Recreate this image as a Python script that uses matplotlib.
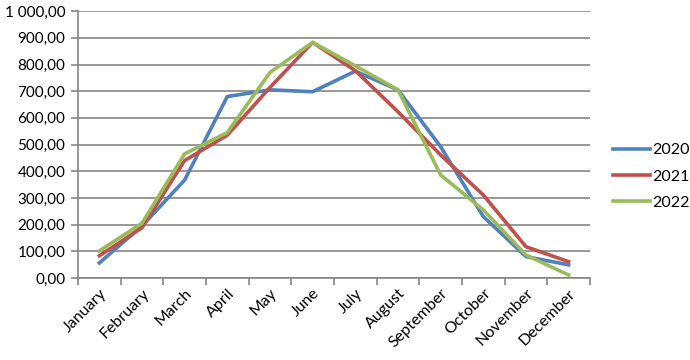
import matplotlib.pyplot as plt
import numpy as np

# monthly values
months = ["January", "February", "March", "April", "May", "June",
          "July", "August", "September", "October", "November", "December"]
y2020 = [56, 195, 367, 680, 705, 698, 775, 705, 492, 230, 80, 49]
y2021 = [83, 188, 440, 535, 714, 883, 777, 623, 461, 311, 117, 61]
y2022 = [101, 205, 465, 545, 770, 883, 795, 705, 386, 255, 86, 11]

plt.rcParams['font.family'] = ['Lato', 'DejaVu Sans']

fig = plt.figure(figsize=(6.9, 3.6), dpi=100)
ax = fig.add_axes([0.113, 0.228, 0.742, 0.741])

x = np.arange(len(months))
ax.plot(x, y2020, color="#4F81BD", lw=2.6, label="2020", solid_joinstyle='round')
ax.plot(x, y2021, color="#C0504D", lw=2.6, label="2021", solid_joinstyle='round')
ax.plot(x, y2022, color="#9BBB59", lw=2.6, label="2022", solid_joinstyle='round')

ax.set_xlim(-0.5, 11.5)
ax.set_ylim(0, 1000)
ax.set_yticks(np.arange(0, 1001, 100))
ax.set_yticklabels([f"{v:,.2f}".replace(",", " ").replace(".", ",") for v in range(0, 1001, 100)],
                   fontsize=11)
ax.yaxis.grid(True, color="#868686", lw=1.2)
ax.set_axisbelow(True)

ax.set_xticks(x)
ax.set_xticklabels(months, rotation=45, ha='right', va='top', rotation_mode='anchor', fontsize=11.5)
ax.set_xticks(np.arange(-0.5, 12, 1), minor=True)
ax.tick_params(axis='x', which='major', length=0, pad=6)
ax.tick_params(axis='x', which='minor', length=5, color="#868686", width=1.2)
ax.tick_params(axis='y', length=5, color="#868686", width=1.2, pad=4)

for s in ["top", "right"]:
    ax.spines[s].set_visible(False)
for s in ["left", "bottom"]:
    ax.spines[s].set_color("#868686")
    ax.spines[s].set_linewidth(1.2)

ax.legend(loc='center left', bbox_to_anchor=(1.045, 0.38), frameon=False, fontsize=11.5,
          handlelength=2.3, labelspacing=0.75, handletextpad=0.15,
          borderpad=0, borderaxespad=0)

plt.savefig("out.png")
